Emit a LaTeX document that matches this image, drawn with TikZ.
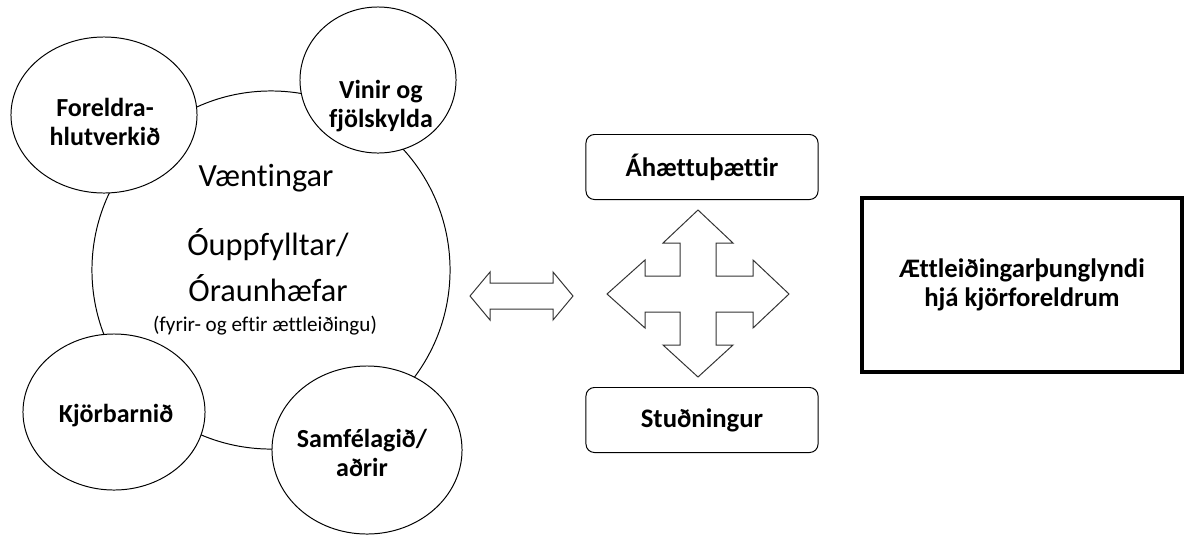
\documentclass[tikz,border=0pt]{standalone}
\usepackage{fontspec}
\setmainfont{Carlito}[Ligatures=NoCommon]
\usetikzlibrary{shapes.geometric}

\begin{document}
\begin{tikzpicture}[x=0.025cm,y=-0.025cm,
  bubble/.style={draw,ellipse,line width=0.7pt,fill=white,inner sep=0pt},
  lbl/.style={align=center,font=\bfseries\fontsize{18.5}{21}\selectfont},
  big/.style={font=\fontsize{23}{26}\selectfont},
  box/.style={draw,rounded corners=6pt,line width=0.7pt,minimum width=5.8cm,minimum height=1.625cm,font=\bfseries\fontsize{19}{21}\selectfont},
  pil/.style={draw=black!80,line width=0.7pt,line join=miter}]
  \useasboundingbox (0,0) rectangle (1187,541);
  \node[bubble,circle,minimum size=8.95cm] (vaentingar) at (271,270) {};
  \foreach \n/\x/\y/\w/\h/\tx/\ty/\t in {
      foreldra/104/115/4.65/3.9/105/122/{Foreldra-\\hlutverkið},
      vinir/378/80/3.9/3.65/381/106/{Vinir og\\fjölskylda},
      barn/114/412/4.55/3.9/116/416/{Kjörbarnið},
      samf/367/450/4.75/4.2/362/453/{Samfélagið/\\aðrir}}
  {
    \node[bubble,minimum width=\w cm,minimum height=\h cm] (\n) at (\x,\y) {};
    \node[lbl] (\n-txt) at (\tx,\ty) {\t};
  }
  \node[big] (vaent) at (266,178) {Væntingar};
  \node[big] (ouppf) at (268,245) {Óuppfylltar/};
  \node[big] (oraun) at (268,288) {Óraunhæfar};
  \node[font=\fontsize{15}{18}\selectfont] (fyrir) at (265,326) {(fyrir- og eftir ættleiðingu)};
  \draw[pil] (470,296) -- (490,272) -- (490,283) -- (553,283) -- (553,272) -- (573,296)
    -- (553,320) -- (553,309) -- (490,309) -- (490,320) -- cycle;
  \draw[pil] (698,210) -- (733,243) -- (716,243) -- (716,276) -- (753,276) -- (753,260)
    -- (789,294) -- (753,328) -- (753,312) -- (716,312) -- (716,345) -- (733,345)
    -- (698,377) -- (663,345) -- (680,345) -- (680,312) -- (645,312) -- (645,328)
    -- (607,294) -- (645,260) -- (645,276) -- (680,276) -- (680,243) -- (663,243) -- cycle;
  \node[box] (risk) at (702,167) {Áhættuþættir};
  \node[box] (stud) at (702,420) {Stuðningur};
  \node[draw,line width=2.8pt,minimum width=8cm,minimum height=4.35cm,align=center,
    font=\bfseries\fontsize{19}{21}\selectfont] (thung) at (1022,285)
    {Ættleiðingarþunglyndi\\hjá kjörforeldrum};
\end{tikzpicture}
\end{document}
